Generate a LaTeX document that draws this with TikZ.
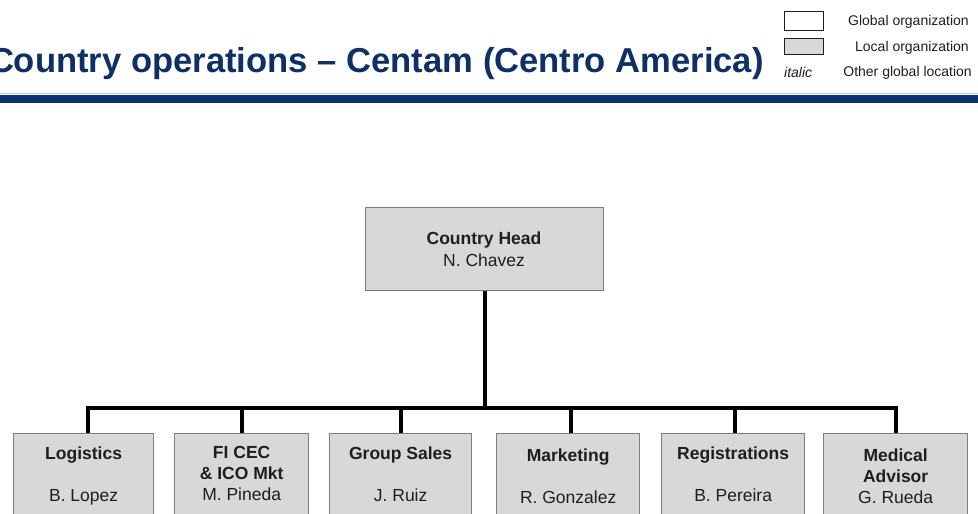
\documentclass[tikz,border=0pt]{standalone}
\usepackage{fontspec}
\setmainfont{Liberation Sans}
\definecolor{navy}{RGB}{14,48,100}
\definecolor{barblue}{RGB}{10,52,110}
\definecolor{boxfill}{RGB}{216,216,216}
\definecolor{boxline}{RGB}{125,125,125}
\definecolor{ink}{RGB}{30,30,30}
\tikzset{
  orgbox/.style={draw=boxline, fill=boxfill, line width=1.3pt, inner sep=0pt},
  boxtext/.style={anchor=north, inner sep=0pt, align=center, text=ink,
    font=\fontsize{17.5}{21}\selectfont},
  conn/.style={line width=4pt, black},
  legtext/.style={anchor=base east, inner sep=0pt, text=ink,
    font=\fontsize{14}{16}\selectfont},
}
\begin{document}
\begin{tikzpicture}[x=1pt,y=-1pt]
\useasboundingbox (0,0) rectangle (978,514);
\clip (0,0) rectangle (978,514);
\fill[white] (0,0) rectangle (978,514);

% heading and rule
\node[anchor=base east, inner sep=0pt, text=navy,
  font=\fontsize{34.6}{40}\selectfont\bfseries] (title) at (764,72)
  {Country operations – Centam (Centro America)};
\fill[barblue] (0,95) rectangle (978,103);
\fill[barblue!25] (0,92.5) rectangle (978,94);

% legend
\node[draw=ink, fill=white, line width=1pt, minimum width=39pt, minimum height=19pt,
  inner sep=0pt, anchor=north west] (lgglobal) at (784,11) {};
\node[draw=ink, fill=boxfill, line width=1pt, minimum width=39pt, minimum height=16pt,
  inner sep=0pt, anchor=north west] (lglocal) at (784,37.5) {};
\node[anchor=base west, inner sep=0pt, text=ink,
  font=\fontsize{14}{16}\selectfont\itshape] (lgitalic) at (784,77) {italic};
\node[legtext] (lgt1) at (969,25) {Global organization};
\node[legtext] (lgt2) at (969,51) {Local organization};
\node[legtext] (lgt3) at (972,76) {Other global location};

% head of the organisation
\node[orgbox, minimum width=238pt, minimum height=83pt, anchor=north west]
  (head) at (365,207) {};
\node[boxtext, font=\fontsize{17.5}{22}\selectfont] (headtxt) at (484,231.5)
  {\textbf{Country Head}\\N. Chavez};

% departments (boxes continue below the lower edge)
\coordinate (bus) at (0,408);
\node[orgbox, minimum width=140pt, minimum height=110pt, anchor=north west] (log) at (13,433) {};
\node[orgbox, minimum width=134pt, minimum height=110pt, anchor=north west] (fic) at (174,433) {};
\node[orgbox, minimum width=142pt, minimum height=110pt, anchor=north west] (grp) at (329,433) {};
\node[orgbox, minimum width=143pt, minimum height=110pt, anchor=north west] (mkt) at (496,433) {};
\node[orgbox, minimum width=143pt, minimum height=110pt, anchor=north west] (reg) at (661,433) {};
\node[orgbox, minimum width=144pt, minimum height=110pt, anchor=north west] (med) at (823,433) {};

\node[boxtext] (logtxt) at (log.north |- 0,446.5) {\textbf{Logistics}\\\mbox{}\\B. Lopez};
\node[boxtext] (fictxt) at (fic.north |- 0,446.5) {\textbf{FI CEC}\\\textbf{\& ICO Mkt}\\M. Pineda};
\node[boxtext] (grptxt) at (grp.north |- 0,446.5) {\textbf{Group Sales}\\\mbox{}\\J. Ruiz};
\node[boxtext] (mkttxt) at (mkt.north |- 0,448.5) {\textbf{Marketing}\\\mbox{}\\R. Gonzalez};
\node[boxtext] (regtxt) at (reg.north |- 0,446.5) {\textbf{Registrations}\\\mbox{}\\B. Pereira};
\node[boxtext] (medtxt) at (med.north |- 0,448.5) {\textbf{Medical}\\\textbf{Advisor}\\G. Rueda};

% reporting lines
\draw[conn] (head.south) -- (head.south |- bus);
\draw[conn] ([xshift=4pt]log.north) |- (med.north |- bus) -- (med.north);
\draw[conn] (fic.north) -- (fic.north |- bus);
\draw[conn] (grp.north) -- (grp.north |- bus);
\draw[conn] ([xshift=3pt]mkt.north) -- ([xshift=3pt]mkt.north |- bus);
\draw[conn] ([xshift=1.5pt]reg.north) -- ([xshift=1.5pt]reg.north |- bus);
\end{tikzpicture}
\end{document}
